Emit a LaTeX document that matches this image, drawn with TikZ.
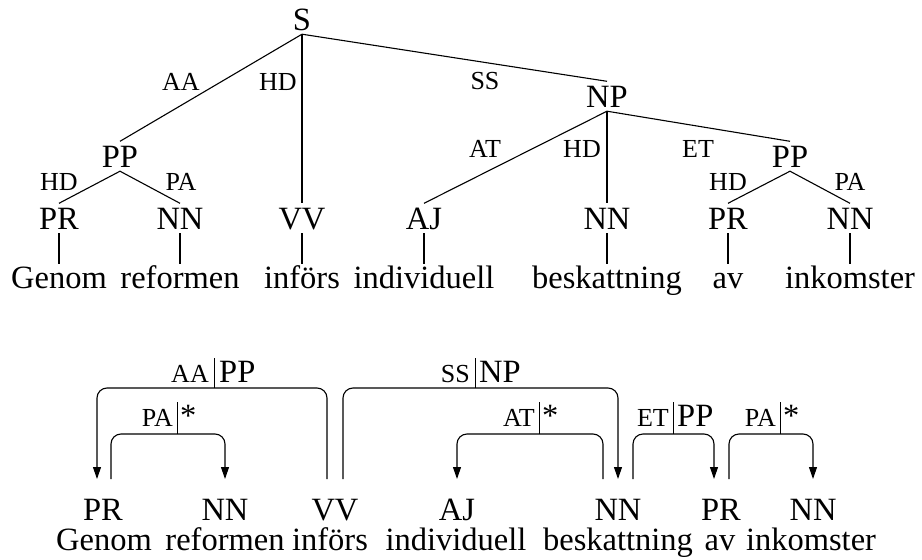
\documentclass[tikz,border=0pt]{standalone}
\usepackage{fontspec}
\setmainfont{Liberation Serif}
\usetikzlibrary{arrows.meta}
\begin{document}
\begin{tikzpicture}[x=1pt,y=-1pt,
  big/.style={font=\fontsize{32.5}{36}\selectfont},
  lab/.style={font=\fontsize{26}{30}\selectfont, inner sep=0pt, anchor=base},
  cat/.style={big, inner sep=4pt, text height=21.5pt, text depth=0pt, anchor=base},
  word/.style={big, inner sep=0pt, text height=24pt, text depth=7pt, anchor=base},
  btag/.style={big, inner sep=0pt, outer xsep=0pt, outer ysep=19.5pt, text height=21.5pt, text depth=0pt, anchor=base},
  edge/.style={line width=1.1pt},
  dep/.style={line width=1.1pt, rounded corners=10pt},
  arr/.style={-{Triangle[width=8pt,length=12pt]}},
  bar/.style={line width=0.7pt}
]
\useasboundingbox (0,0) rectangle (922,560);

% ---------- phrase structure tree ----------
\node[cat] (s)   at (302,30)  {S};
\node[cat] (np)  at (607,107) {NP};
\node[cat] (ppl) at (120,167) {PP};
\node[cat] (ppr) at (790,167) {PP};

\node[cat] (tpr1) at (59,229)  {PR};
\node[cat] (tnn1) at (180,229) {NN};
\node[cat] (tvv)  at (302,229) {VV};
\node[cat] (taj)  at (424,229) {AJ};
\node[cat] (tnn2) at (607,229) {NN};
\node[cat] (tpr2) at (728,229) {PR};
\node[cat] (tnn3) at (850,229) {NN};

\node[word] (tw1) at (59,288)  {Genom};
\node[word] (tw2) at (180,288) {reformen};
\node[word] (tw3) at (302,288) {införs};
\node[word] (tw4) at (424,288) {individuell};
\node[word] (tw5) at (607,288) {beskattning};
\node[word] (tw6) at (728,288) {av};
\node[word] (tw7) at (850,288) {inkomster};

\draw[edge] (s.south) -- (ppl.north);
\draw[edge] (s.south) -- (tvv.north);
\draw[edge] (s.south) -- (np.north);
\draw[edge] (ppl.south) -- (tpr1.north);
\draw[edge] (ppl.south) -- (tnn1.north);
\draw[edge] (np.south) -- (taj.north);
\draw[edge] (np.south) -- (tnn2.north);
\draw[edge] (np.south) -- (ppr.north);
\draw[edge] (ppr.south) -- (tpr2.north);
\draw[edge] (ppr.south) -- (tnn3.north);

\foreach \t/\w in {tpr1/tw1,tnn1/tw2,tvv/tw3,taj/tw4,tnn2/tw5,tpr2/tw6,tnn3/tw7}
  \draw[edge] (\t.south) -- (\w.north);

% edge labels
\node[lab] (lAA) at (181,90)  {AA};
\node[lab] (lHD) at (278,90)  {HD};
\node[lab] (lSS) at (485,89)  {SS};
\node[lab] (lAT) at (485,157) {AT};
\node[lab] (lHDn) at (582,157) {HD};
\node[lab] (lET) at (698,157) {ET};
\node[lab] (lHDa) at (59,190)  {HD};
\node[lab] (lPAa) at (181,190) {PA};
\node[lab] (lHDb) at (728,190) {HD};
\node[lab] (lPAb) at (850,190) {PA};

% ---------- dependency arcs ----------
\node[btag] (bpr1) at (103,520) {PR};
\node[btag] (bnn1) at (225,520) {NN};
\node[btag] (bvv)  at (335,520) {VV};
\node[btag] (baj)  at (457,520) {AJ};
\node[btag] (bnn2) at (618,520) {NN};
\node[btag] (bpr2) at (721,520) {PR};
\node[btag] (bnn3) at (813,520) {NN};

\node[word] (bw1) at (104,550) {Genom};
\node[word] (bw2) at (225,550) {reformen};
\node[word] (bw3) at (330,550) {införs};
\node[word] (bw4) at (456,550) {individuell};
\node[word] (bw5) at (618,550) {beskattning};
\node[word] (bw6) at (720,550) {av};
\node[word] (bw7) at (811,550) {inkomster};

% upper arcs
\draw[dep,arr] ([xshift=-8pt]bvv.north) -- ++(0,-91) -| ([xshift=-6pt]bpr1.north);
\draw[dep,arr] ([xshift=8pt]bvv.north) -- ++(0,-91) -| (bnn2.north);
% lower arcs
\draw[dep,arr] ([xshift=8pt]bpr1.north) -- ++(0,-45) -| (bnn1.north);
\draw[dep,arr] ([xshift=-15pt]bnn2.north) -- ++(0,-45) -| (baj.north);
\draw[dep,arr] ([xshift=15pt]bnn2.north) -- ++(0,-45) -| ([xshift=-7pt]bpr2.north);
\draw[dep,arr] ([xshift=8pt]bpr2.north) -- ++(0,-45) -| (bnn3.north);

% arc labels: function | category
\draw[bar] (214,388) -- (214,358);
\node[lab, anchor=base east] at (209,382) {AA};
\node[big, inner sep=0pt, anchor=base west] at (219,382) {PP};

\draw[bar] (475,388) -- (475,358);
\node[lab, anchor=base east] at (470,382) {SS};
\node[big, inner sep=0pt, anchor=base west] at (479,382) {NP};

\draw[bar] (177,434) -- (177,402);
\node[lab, anchor=base east] at (173,426) {PA};
\node[big, inner sep=0pt, anchor=base west] at (180,426) {*};

\draw[bar] (539,434) -- (539,402);
\node[lab, anchor=base east] at (535,426) {AT};
\node[big, inner sep=0pt, anchor=base west] at (542,426) {*};

\draw[bar] (673,434) -- (673,402);
\node[lab, anchor=base east] at (669,426) {ET};
\node[big, inner sep=0pt, anchor=base west] at (677,426) {PP};

\draw[bar] (780,434) -- (780,402);
\node[lab, anchor=base east] at (776,426) {PA};
\node[big, inner sep=0pt, anchor=base west] at (783,426) {*};
\end{tikzpicture}
\end{document}
